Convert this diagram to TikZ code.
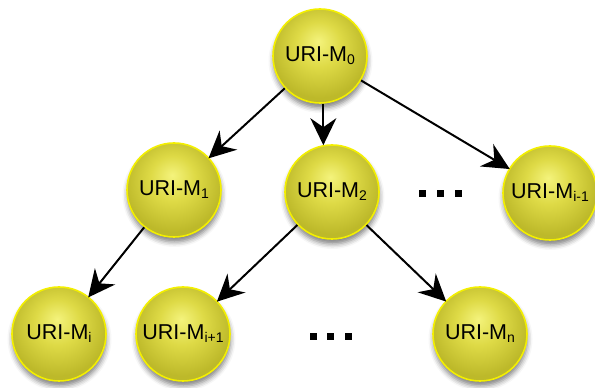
\documentclass[tikz,border=0pt]{standalone}
\usepackage{fontspec}
\setmainfont{Liberation Sans}
\usetikzlibrary{arrows.meta,shadows.blur}
\definecolor{hlc}{HTML}{F4F37C}
\definecolor{midc}{HTML}{DEDA46}
\definecolor{edgec}{HTML}{BDB92A}
\definecolor{rimc}{HTML}{F3EF00}
\pgfdeclareradialshading{yball}{\pgfpoint{-1bp}{8bp}}{color(0bp)=(hlc); color(12bp)=(midc); color(26bp)=(edgec); color(50bp)=(edgec)}
\newcommand\urim[1]{URI-M\raisebox{-3pt}{\fontsize{14}{14}\selectfont #1}}
\tikzset{
  ballnode/.style={circle, minimum size=94pt, inner sep=0pt, shading=yball,
    draw=rimc, line width=1.6pt, text=black,
    font=\fontsize{21.5}{23}\selectfont,
    blur shadow={shadow xshift=0.5pt, shadow yshift=-5pt, shadow blur radius=5pt, shadow opacity=50}},
  arr/.style={draw=black, line width=2pt, -{Stealth[length=27pt, width=26pt, inset=9pt]}, shorten >=-1pt},
  dotbox/.style={fill=black, minimum size=7pt, inner sep=0pt, rectangle}
}
\begin{document}
\begin{tikzpicture}[x=1pt,y=1pt]
\useasboundingbox (0,0) rectangle (595,388);
\node[ballnode] (M0) at (320,332) {\urim{0}};
\node[ballnode] (M1) at (174,198) {\urim{1}};
\node[ballnode] (M2) at (332,196) {\urim{2}};
\node[ballnode] (Mim) at (550,195) {\urim{i-1}};
\node[ballnode] (Mi) at (59,54) {\urim{i}};
\node[ballnode] (Mip) at (183,54) {\urim{i+1}};
\node[ballnode] (Mn) at (480,54) {\urim{n}};
\node[dotbox] (d1) at (422.5,194) {};
\node[dotbox] (d2) at (440,194) {};
\node[dotbox] (d3) at (458,194) {};
\node[dotbox] (e1) at (313.5,51.5) {};
\node[dotbox] (e2) at (330,51.5) {};
\node[dotbox] (e3) at (348,51.5) {};
\draw[arr] (M0) -- (M1);
\draw[arr] (M0.-86) -- (M0.-86 |- M2.north);
\draw[arr] (M0) -- (Mim);
\draw[arr] (M1) -- (Mi);
\draw[arr] (M2) -- (Mip);
\draw[arr] (M2) -- (Mn);
\end{tikzpicture}
\end{document}
